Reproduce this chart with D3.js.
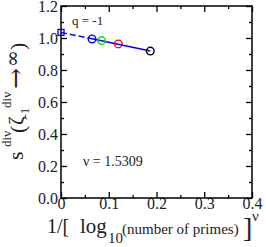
<!DOCTYPE html>
<html>
<head>
<meta charset="utf-8">
<script src="https://cdn.jsdelivr.net/npm/d3@7"></script>
<style>
  body { margin: 0; background: #fff; }
  text { font-family: "Liberation Serif", "DejaVu Serif", serif; fill: #222; }
</style>
</head>
<body>
<script>
// data
var ptX = [0.065, 0.085, 0.12, 0.187];
var ptY = [0.994, 0.984, 0.963, 0.918];
var ptColor = ["#0000ff", "#00dd00", "#ff0000", "#000000"];
var extX = [0];
var extY = [1.035];
var solidX = [0.065, 0.187];
var solidY = [0.995, 0.919];
var dashX = [0, 0.065];
var dashY = [1.035, 0.995];
var xTicks = [0, 0.1, 0.2, 0.3, 0.4];
var yTicks = [0, 0.2, 0.4, 0.6, 0.8, 1.0, 1.2];
var xMinor = [0.05, 0.15, 0.25, 0.35];
var yMinor = [0.1, 0.3, 0.5, 0.7, 0.9, 1.1];

var width = 266, height = 247;
var padL = 61, padR = 252, padT = 6, padB = 198;

var svg = d3.select("body")
    .append("svg")
    .attr("width", width)
    .attr("height", height);

var xScale = d3.scaleLinear().domain([0, 0.4]).range([padL, padR]);
var yScale = d3.scaleLinear().domain([0, 1.2]).range([padB, padT]);

// axes, ticks pointing inward on all four sides
function tickAxis(axis, pos, vals, size, fmt) {
    return svg.append("g")
        .attr("transform", pos)
        .call(axis.tickValues(vals).tickSizeInner(size).tickSizeOuter(0)
            .tickFormat(fmt));
}
var fmt1 = function(d) { return d3.format(".1f")(d); };
var xfmt = function(d) { return d === 0 ? "0" : d3.format(".1f")(d); };
var none = function() { return ""; };

var axes = [];
axes.push(tickAxis(d3.axisBottom(xScale), "translate(0," + padB + ")", xTicks, -6, xfmt));
axes.push(tickAxis(d3.axisBottom(xScale), "translate(0," + padB + ")", xMinor, -3, none));
axes.push(tickAxis(d3.axisTop(xScale), "translate(0," + padT + ")", xTicks, -6, none));
axes.push(tickAxis(d3.axisTop(xScale), "translate(0," + padT + ")", xMinor, -3, none));
axes.push(tickAxis(d3.axisLeft(yScale), "translate(" + padL + ",0)", yTicks, -6, fmt1));
axes.push(tickAxis(d3.axisLeft(yScale), "translate(" + padL + ",0)", yMinor, -3, none));
axes.push(tickAxis(d3.axisRight(yScale), "translate(" + padR + ",0)", yTicks, -6, none));
axes.push(tickAxis(d3.axisRight(yScale), "translate(" + padR + ",0)", yMinor, -3, none));

axes.forEach(function(g) {
    g.select(".domain").remove();
    g.selectAll("line").attr("stroke", "#000").attr("stroke-width", 1.3);
    g.selectAll("text").attr("font-size", 16).attr("fill", "#222")
        .style("font-family", "Liberation Serif");
});
axes[0].selectAll("text").attr("y", 0);
axes[4].selectAll("text").attr("x", -3).attr("dy", "0.36em");

svg.append("rect")
    .attr("x", padL).attr("y", padT)
    .attr("width", padR - padL).attr("height", padB - padT)
    .attr("fill", "none").attr("stroke", "#000").attr("stroke-width", 1.5);

var line = d3.line()
    .x(function(d) { return xScale(d[0]); })
    .y(function(d) { return yScale(d[1]); });

svg.append("path")
    .datum(d3.zip(dashX, dashY))
    .attr("d", line)
    .attr("fill", "none").attr("stroke", "#0000ff").attr("stroke-width", 1.5)
    .attr("stroke-dasharray", "6,3");

svg.append("path")
    .datum(d3.zip(solidX, solidY))
    .attr("d", line)
    .attr("fill", "none").attr("stroke", "#0000ff").attr("stroke-width", 1.5);

svg.selectAll(".ext")
    .data(d3.zip(extX, extY))
    .enter()
    .append("rect")
    .attr("class", "ext")
    .attr("x", function(d) { return xScale(d[0]) - 3; })
    .attr("y", function(d) { return yScale(d[1]) - 3; })
    .attr("width", 6).attr("height", 6)
    .attr("fill", "none").attr("stroke", "#0000ff").attr("stroke-width", 1.3);

svg.selectAll(".pt")
    .data(d3.zip(ptX, ptY, ptColor))
    .enter()
    .append("circle")
    .attr("class", "pt")
    .attr("cx", function(d) { return xScale(d[0]); })
    .attr("cy", function(d) { return yScale(d[1]); })
    .attr("r", 3.8)
    .attr("fill", "none")
    .attr("stroke", function(d) { return d[2]; })
    .attr("stroke-width", 1.4);

svg.append("text").attr("x", 72).attr("y", 25)
    .attr("font-size", 13).text("q = -1");
svg.append("text").attr("x", 83).attr("y", 166)
    .attr("font-size", 14).text("\u03bd = 1.5309");

// x label, built piece by piece
function piece(g, x, y, size, s, fam) {
    var t = g.append("text").attr("x", x).attr("y", y).attr("font-size", size).text(s);
    if (fam) t.style("font-family", fam);
    return t;
}
var xl = svg.append("g");
piece(xl, 47, 233, 20, "1/[");
piece(xl, 80, 233, 21, "log");
piece(xl, 108, 243, 15, "10");
piece(xl, 122, 234, 15, "(number of primes)");
piece(xl, 243, 237, 28, "]");
piece(xl, 252, 221, 15, "\u03bd");

// y label, rotated
var yl = svg.append("g").attr("transform", "translate(23,161) rotate(-90)");
piece(yl, 1, 0, 22, "s");
piece(yl, 14, -12, 13, "div");
piece(yl, 28, 2, 22, "(");
piece(yl, 36, 0, 21, "\u03b6");
piece(yl, 43, 6, 12, "-1");
piece(yl, 53, -12, 13, "div");
piece(yl, 72, 1, 25, "\u2192", "DejaVu Serif");
piece(yl, 94, -4, 20, "\u221e", "DejaVu Serif");
piece(yl, 111, 2, 22, ")");
</script>
</body>
</html>
